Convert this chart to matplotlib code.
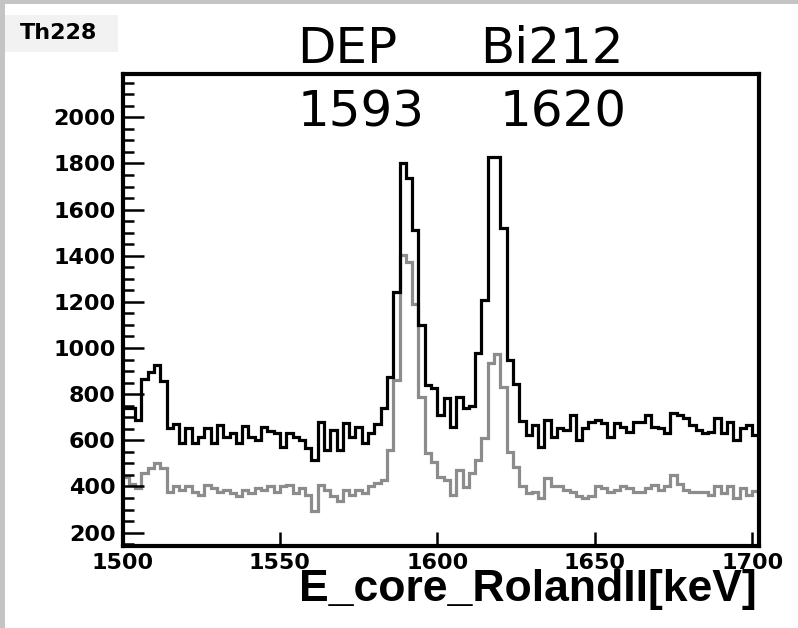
import numpy as np
import matplotlib
matplotlib.use("Agg")
import matplotlib.pyplot as plt
from matplotlib.patches import Rectangle
from matplotlib.ticker import MultipleLocator

# histogram binning: 2 keV bins from 1500 keV
bin_start = 1500
bin_width = 2
n_bins = 101

# black: all events
counts_all = [
    740, 739, 688, 865, 895, 927, 858, 652, 670, 587,
    652, 587, 616, 652, 587, 665, 616, 630, 587, 660,
    616, 600, 659, 640, 630, 572, 630, 616, 600, 565,
    515, 681, 558, 645, 558, 674, 616, 659, 587, 630,
    670, 739, 876, 1244, 1803, 1737, 1511, 1100, 840, 826,
    710, 782, 659, 789, 740, 750, 977, 1208, 1829, 1829,
    1519, 948, 845, 684, 625, 666, 572, 688, 616, 652,
    645, 710, 601, 652, 681, 688, 674, 616, 674, 659,
    637, 681, 680, 710, 659, 652, 630, 717, 710, 695,
    666, 645, 630, 637, 695, 630, 681, 601, 652, 666,
    623,
]

# grey: after cut
counts_cut = [
    440, 410, 395, 457, 478, 500, 478, 378, 400, 386,
    400, 378, 364, 407, 392, 378, 385, 371, 357, 385,
    371, 392, 385, 400, 378, 400, 407, 371, 392, 364,
    292, 407, 386, 357, 335, 385, 364, 386, 371, 400,
    415, 428, 558, 861, 1403, 1374, 1193, 789, 543, 507,
    442, 428, 363, 471, 399, 457, 514, 608, 933, 976,
    832, 548, 485, 400, 370, 378, 350, 436, 400, 400,
    385, 378, 357, 350, 360, 400, 392, 378, 385, 400,
    392, 378, 378, 392, 407, 386, 400, 450, 410, 386,
    378, 378, 378, 364, 400, 371, 400, 350, 392, 364,
    380,
]

x_ticks = [1500, 1550, 1600, 1650, 1700]
peak_names = ["DEP", "Bi212"]
peak_energies = ["1593", "1620"]

edges = bin_start + bin_width * np.arange(n_bins + 1)

W, H = 798, 628
fig = plt.figure(figsize=(W / 100, H / 100), dpi=100)
fig.patch.set_facecolor("white")

# screenshot border and the small title box
fig.patches.append(Rectangle((0, 0), 5 / W, 1, transform=fig.transFigure,
                             facecolor="#c4c4c4", edgecolor="none", zorder=0))
fig.patches.append(Rectangle((0, 1 - 4 / H), 1, 4 / H, transform=fig.transFigure,
                             facecolor="#c4c4c4", edgecolor="none", zorder=0))
fig.patches.append(Rectangle((5 / W, 1 - 52 / H), 113 / W, 37 / H, transform=fig.transFigure,
                             facecolor="#f2f2f2", edgecolor="none", zorder=0))
fig.text(20 / W, 1 - 39 / H, "Th228", fontsize=16, fontweight="bold",
         family="DejaVu Sans", ha="left", va="baseline")

ax = fig.add_axes([122.5 / W, 1 - 546 / H, 636 / W, 472.3 / H])

ax.stairs(counts_cut, edges, color="#8c8c8c", linewidth=2.3, baseline=None)
ax.stairs(counts_all, edges, color="black", linewidth=2.3, baseline=None)

ax.set_xlim(1500, 1702)
ax.set_ylim(142, 2189)
ax.set_xticks(x_ticks)
ax.yaxis.set_major_locator(MultipleLocator(200))
ax.yaxis.set_minor_locator(MultipleLocator(50))

for s in ax.spines.values():
    s.set_linewidth(3)
ax.tick_params(axis="both", which="both", direction="in", width=1.8)
ax.tick_params(axis="y", which="major", length=15, pad=5)
ax.tick_params(axis="y", which="minor", length=8)
ax.tick_params(axis="x", which="major", length=10, pad=5)
ax.tick_params(right=False, top=False)
for lab in ax.get_xticklabels() + ax.get_yticklabels():
    lab.set_fontsize(16)
    lab.set_fontweight("bold")
    lab.set_family("DejaVu Sans")

# axis title sits right-aligned under the frame, overlapping the tick labels as in the original
fig.text(757 / W, 1 - 601 / H, "E_core_RolandII[keV]", fontsize=32, fontweight="bold",
         family="Liberation Sans", ha="right", va="baseline")

# peak labels above the frame
name_x = [297, 480]
energy_x = [298, 500]
for nm, en, nx, ex in zip(peak_names, peak_energies, name_x, energy_x):
    fig.text(nx / W, 1 - 63.3 / H, nm, fontsize=36, family="DejaVu Sans",
             ha="left", va="baseline")
    fig.text(ex / W, 1 - 126.7 / H, en, fontsize=36, family="DejaVu Sans",
             ha="left", va="baseline")

fig.savefig("out.png", dpi=100)
